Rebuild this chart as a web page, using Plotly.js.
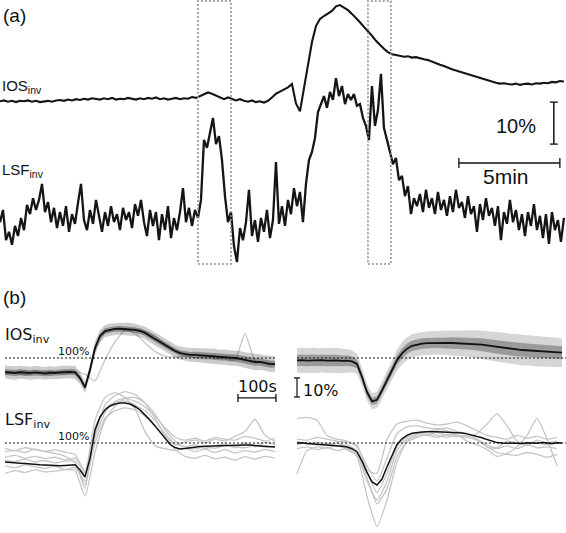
<!DOCTYPE html>
<html>
<head>
<meta charset="utf-8">
<script src="https://cdn.plot.ly/plotly-3.0.1.min.js"></script>
<style>html,body{margin:0;padding:0;background:#fff}</style>
</head>
<body>
<div id="fig" style="width:566px;height:533px"></div>
<script>
// ---- panel (a): whole recording, values in % relative to baseline ----
var dtIosA = 11.88;   // s between samples
var dtLsfA = 8.91;

var iosA = [
  -0.3,-0.1,-0.4,-0.2,-0.5,-0.2,-0.3,-0.1,-0.4,-0.2,-0.5,-0.3,-0.2,-0.4,-0.1,0.0,
  -0.2,0.1,-0.1,0.2,0.0,0.3,0.1,0.4,0.2,0.1,0.4,0.2,0.5,0.1,0.3,0.2,
  0.5,0.3,0.1,0.4,0.2,0.5,0.3,0.6,0.2,0.4,0.1,0.3,0.5,0.2,0.4,0.3,
  0.7,0.5,0.9,1.3,1.8,1.5,1.0,0.6,0.2,0.6,0.3,-0.1,0.2,-0.2,-0.4,-0.1,
  -0.5,-0.3,-0.6,-0.2,0.6,1.5,2.0,2.5,3.0,3.8,-0.8,-2.7,2.8,8.8,13.8,17.6,
  19.3,20.0,20.6,21.2,22.3,22.6,22.0,21.4,20.5,19.6,18.5,17.4,16.4,15.3,14.1,13.1,
  12.2,11.4,10.9,10.7,10.5,10.3,10.4,10.1,10.2,9.9,9.7,9.5,9.1,8.7,8.4,8.1,
  7.6,7.3,7.0,6.7,6.5,6.1,5.8,5.5,5.2,4.9,4.6,4.4,4.1,3.9,4.0,3.8,
  3.7,3.9,3.6,3.8,3.9,3.7,4.0,3.9,4.1,4.0,4.3,4.2,4.5,4.4
];

var lsfA = [
  -1.7,1.2,-6.0,-4.0,-7.1,-2.6,-5.0,-0.7,-3.6,2.4,
  0.2,4.0,1.2,3.6,7.4,0.7,3.1,-1.7,1.7,-3.1,
  0.7,-2.6,2.1,-4.0,0.2,-2.1,2.9,7.4,-1.2,-3.6,
  1.2,-2.1,3.6,-0.7,-4.0,0.7,-2.6,2.1,-1.7,0.2,
  -3.6,1.7,-1.2,0.7,-3.1,2.6,-0.2,3.6,-1.7,-5.0,
  1.2,-2.6,0.7,-6.0,0.2,-3.6,2.1,-5.5,-0.7,-3.6,
  0.7,6.4,-1.7,1.7,-2.6,1.2,-0.7,3.6,17.9,16.0,
  19.8,23.1,16.9,18.8,13.1,4.5,-1.7,0.7,-7.4,-11.2,
  -3.1,-6.0,-1.7,6.0,-5.0,-1.2,-6.4,-0.7,-4.0,1.2,
  -5.5,-1.2,12.6,-2.1,2.1,-2.6,3.6,0.2,6.4,2.1,
  5.5,-1.7,7.4,13.1,15.0,18.3,24.5,26.4,28.3,25.5,
  29.3,27.4,32.6,28.3,30.7,26.4,28.8,27.4,28.8,26.0,
  26.4,23.1,21.2,17.9,30.7,21.2,25.0,33.6,20.7,17.9,
  15.0,12.1,13.6,8.3,9.3,4.5,6.9,0.2,4.0,2.1,
  5.0,0.7,6.0,1.7,4.0,0.2,5.5,1.2,3.6,-0.2,
  4.5,0.7,6.0,1.7,3.1,-0.7,4.5,0.2,2.1,-4.0,
  2.6,-1.2,4.0,-0.2,1.7,-2.6,2.1,-6.0,0.7,-2.1,
  3.6,-1.7,1.2,-3.6,0.2,-5.0,0.7,-2.6,2.6,-3.6,
  -0.2,-5.5,0.2,-6.9,0.7,-3.6,-1.2,-6.4,-0.7
];

// time windows (s) that are averaged in panel (b)
var windowsA = [[588, 686], [1093, 1161]];

// ---- panel (b): event-triggered averages, % of baseline ----
var dtMean = 13.16;   // s, mean traces
var dtTrial = 26.32;  // s, single trials

var iosLeftMean = [
  92.6,92.4,92.1,92.5,92.3,92.0,92.4,92.2,91.9,92.3,92.1,92.4,92.6,92.7,92.5,
  89.5,84.5,93.7,105.3,111.6,114.2,114.9,115.3,115.4,115.3,
  115.2,114.8,114.2,113.2,111.6,110.0,108.4,106.8,105.3,103.7,
  102.6,102.1,101.6,101.6,101.4,101.1,101.1,100.9,100.5,100.5,
  100.0,100.0,99.5,98.9,98.4,97.9,97.9,97.4,96.8,96.8
];
var iosLeftSd = [
  3.4,3.3,3.5,3.4,3.3,3.4,3.5,3.3,3.4,3.4,3.3,3.5,3.4,3.3,3.4,
  3.2,3.0,3.2,3.5,3.3,
  3.2,3.3,3.2,3.1,3.2,3.3,3.2,3.1,3.2,3.4,3.5,3.6,3.5,3.4,3.3,3.4,
  3.5,3.6,3.7,3.8,3.8,3.9,4.0,3.9,4.0,4.1,4.0,4.2,4.1,4.2,4.3,4.2,4.1,4.2,4.0
];
var iosLeftTrials = [
  [93.0,92.5,93.2,92.4,93.0,92.6,93.1,92.8,91.5,88.0,99.0,108.5,114.5,115.0,
   114.0,111.5,107.5,104.0,102.0,101.5,101.0,100.8,100.2,99.8,99.0,98.0,97.5,96.5],
  [91.5,92.0,91.0,92.2,91.4,92.0,91.6,92.3,86.0,104.0,113.5,115.5,115.0,113.0,
   108.0,103.5,101.0,100.5,101.0,100.2,100.8,100.0,99.6,99.0,113.0,98.6,97.8,97.0]
];

var iosRightMean = [
  98.7,98.9,98.6,98.8,98.7,98.9,98.6,98.8,98.7,98.5,
  98.6,98.2,96.9,90.0,82.0,77.2,78.0,83.0,88.5,94.0,
  98.9,102.4,104.9,106.4,107.1,107.6,107.8,107.9,108.0,108.0,
  107.9,107.9,107.8,107.7,107.6,107.5,107.4,107.0,106.6,106.2,
  105.8,105.5,105.2,104.8,104.5,104.2,104.0,103.8,103.6,103.4,
  103.3,103.2,103.0,102.8
];
var iosRightSd = [
  6.4,6.6,6.5,6.7,6.6,6.4,6.6,6.5,6.7,6.4,6.2,5.8,
  5.2,4.8,4.4,4.2,4.3,4.6,5.0,5.3,5.6,
  5.9,6.0,6.1,6.2,6.1,6.2,6.3,6.2,6.4,6.5,6.6,6.7,6.8,7.0,7.1,7.2,7.4,
  7.6,7.7,7.8,7.9,7.8,8.0,7.9,8.1,8.0,7.9,8.1,8.0,7.8,7.9,7.7,7.6
];

var lsfLeftMean = [
  90.0,89.7,89.5,89.4,89.2,88.9,88.7,88.5,88.4,88.2,87.9,88.0,88.2,88.4,88.6,
  85.8,82.1,92.0,106.8,113.7,117.4,119.5,120.5,121.0,121.1,
  120.5,119.2,117.4,115.0,112.1,109.0,105.8,102.4,99.2,97.6,
  96.9,97.1,97.6,98.0,98.2,98.3,98.4,98.6,98.7,98.8,
  98.9,98.9,99.0,98.9,98.9,98.7,98.5,98.3,98.1,97.9
];
var lsfLeftTrials = [
  [95.5,96.0,95.0,96.8,95.6,96.5,95.2,94.0,85.0,112.0,124.0,126.5,124.0,118.0,
   106.0,98.5,97.0,96.0,97.5,96.8,98.0,97.2,99.0,98.0,97.5,98.6,97.8,98.2],
  [84.0,85.5,84.5,86.0,84.8,85.2,86.0,85.5,72.0,95.0,112.0,119.5,123.5,124.0,
   121.0,115.0,107.0,101.0,97.5,95.5,96.8,95.0,96.5,94.8,96.0,95.2,96.5,95.5],
  [91.0,90.2,91.5,90.0,90.8,89.5,90.5,90.0,78.0,104.0,120.0,125.0,127.0,125.5,
   121.0,113.0,104.0,99.0,100.5,101.5,100.0,102.0,101.0,103.5,106.0,112.5,104.0,101.0],
  [88.0,87.0,88.5,87.5,86.5,87.8,86.0,87.0,80.0,100.0,113.0,117.0,118.5,117.5,
   114.0,109.0,103.5,96.5,93.0,92.0,93.5,91.8,92.5,91.0,92.8,91.5,93.0,92.0],
  [92.5,93.5,92.0,93.0,91.8,92.5,91.0,92.0,84.0,103.0,116.0,122.0,123.5,122.0,
   119.0,114.0,108.0,103.0,101.5,102.5,101.0,103.0,102.0,101.5,103.5,102.5,101.0,102.5],
  [97.0,96.0,97.5,96.5,95.5,94.5,93.0,90.0,76.0,108.0,118.0,121.5,122.0,120.0,
   117.0,112.0,105.0,99.5,98.0,99.0,97.0,98.5,99.5,97.5,100.0,98.0,100.5,99.0]
];

var lsfRightMean = [
  100.0,100.1,99.7,99.5,99.6,99.2,99.0,98.8,98.6,98.3,
  97.9,97.0,95.3,90.5,84.5,79.5,77.9,81.0,87.5,93.7,
  99.2,102.2,104.0,105.1,105.5,105.8,105.9,106.0,105.9,105.8,
  105.7,105.5,105.4,105.2,104.8,104.2,103.6,102.8,101.8,100.8,
  100.2,100.0,99.9,100.1,100.0,99.8,100.1,100.0,99.9,100.2,
  100.0,99.8,100.1,100.0
];
var lsfRightTrials = [
  [113.0,113.5,112.0,104.0,102.0,101.0,98.0,88.0,80.0,92.0,105.0,108.5,109.0,108.0,
   107.5,108.0,106.0,105.0,102.0,98.0,97.0,98.5,97.0,99.0,97.5,98.0,97.0],
  [84.0,96.0,98.0,97.5,98.5,96.5,93.0,72.0,56.0,70.0,90.0,101.0,104.5,106.0,
   107.0,106.5,104.0,103.0,101.5,98.0,95.0,94.0,93.5,95.0,94.0,92.5,94.0],
  [102.0,101.5,103.0,102.0,101.0,100.5,99.0,86.0,84.0,102.0,110.0,111.5,112.0,110.5,
   109.5,110.0,111.0,109.0,106.5,104.0,103.0,102.0,104.0,102.5,103.5,102.0,103.0],
  [97.0,98.0,96.5,97.5,96.0,97.0,94.0,80.0,70.0,80.0,96.0,102.0,103.5,104.0,
   103.0,104.5,104.0,103.0,105.0,110.0,115.5,109.0,101.0,99.0,100.5,99.0,100.0],
  [99.0,100.5,99.0,100.0,98.5,99.0,96.0,82.0,68.0,76.0,93.0,100.5,103.0,104.5,
   104.0,103.0,104.0,101.0,99.0,96.5,93.0,94.5,98.0,104.0,113.0,102.0,88.0],
  [101.0,99.5,100.5,99.0,100.0,98.0,95.5,85.0,74.0,84.0,98.0,103.0,105.0,104.5,
   105.5,104.0,103.5,104.0,102.0,99.0,97.5,101.0,100.0,99.0,101.5,100.0,101.0]
];

// ---- layout geometry (pixels of the 566x533 figure) ----
var W = 566, H = 533;
var secPerPxA = 300 / 101, pxPerPctA = 4.2;   // 5 min bar, 10 % bar
var secPerPxB = 100 / 38,  pxPerPctB = 1.9;   // 100 s bar, 10 % bar

function px(x) { return x / W; }
function py(y) { return 1 - y / H; }
function yDomain(top, bot) { return [py(bot), py(top)]; }
function yRange(top, bot, refPx, refVal, k) {
  return [refVal - (bot - refPx) / k, refVal + (refPx - top) / k];
}
function times(n, dt) {
  var t = [];
  for (var i = 0; i < n; i++) t.push(i * dt);
  return t;
}

var traces = [];

// panel (a)
traces.push({x: times(iosA.length, dtIosA), y: iosA, xaxis: 'x', yaxis: 'y',
  mode: 'lines', line: {color: '#151515', width: 2.1}, hoverinfo: 'skip'});
traces.push({x: times(lsfA.length, dtLsfA), y: lsfA, xaxis: 'x', yaxis: 'y2',
  mode: 'lines', line: {color: '#151515', width: 2.3}, hoverinfo: 'skip'});

// panel (b)
function band(t, mean, sd, k, color, xa, ya) {
  var up = mean.map(function (m, i) { return m + k * sd[i]; });
  var lo = mean.map(function (m, i) { return m - k * sd[i]; });
  return {x: t.concat(t.slice().reverse()), y: up.concat(lo.reverse()),
    xaxis: xa, yaxis: ya, mode: 'lines', line: {width: 0},
    fill: 'toself', fillcolor: color, hoverinfo: 'skip'};
}
function trial(y, xa, ya) {
  return {x: times(y.length, dtTrial), y: y, xaxis: xa, yaxis: ya, mode: 'lines',
    line: {color: '#c6c6c6', width: 1.3, shape: 'spline', smoothing: 0.5}, hoverinfo: 'skip'};
}
function meanLine(y, xa, ya, w) {
  return {x: times(y.length, dtMean), y: y, xaxis: xa, yaxis: ya, mode: 'lines',
    line: {color: '#111', width: w}, hoverinfo: 'skip'};
}

var tL = times(iosLeftMean.length, dtMean);
var tR = times(iosRightMean.length, dtMean);

iosLeftTrials.forEach(function (y) { traces.push(trial(y, 'x2', 'y3')); });
traces.push(band(tL, iosLeftMean, iosLeftSd, 1, 'rgba(0,0,0,0.2)', 'x2', 'y3'));
traces.push(band(tL, iosLeftMean, iosLeftSd, 0.45, 'rgba(0,0,0,0.3)', 'x2', 'y3'));
traces.push(meanLine(iosLeftMean, 'x2', 'y3', 1.8));

traces.push(band(tR, iosRightMean, iosRightSd, 1, 'rgba(0,0,0,0.16)', 'x3', 'y3'));
traces.push(band(tR, iosRightMean, iosRightSd, 0.45, 'rgba(0,0,0,0.28)', 'x3', 'y3'));
traces.push(meanLine(iosRightMean, 'x3', 'y3', 1.8));

lsfLeftTrials.forEach(function (y) { traces.push(trial(y, 'x2', 'y4')); });
traces.push(meanLine(lsfLeftMean, 'x2', 'y4', 1.5));
lsfRightTrials.forEach(function (y) { traces.push(trial(y, 'x3', 'y4')); });
traces.push(meanLine(lsfRightMean, 'x3', 'y4', 1.5));

// ---- shapes: windows, scale bars, 100 % lines ----
var shapes = [];
windowsA.forEach(function (w) {
  shapes.push({type: 'rect', xref: 'x', yref: 'paper', x0: w[0], x1: w[1],
    y0: py(264), y1: py(1), line: {color: '#8c8c8c', width: 1.5, dash: '2px,2px'}});
});
function hLine(xref, yref, x0, x1, y, w) {
  return {type: 'line', xref: xref, yref: yref, x0: x0, x1: x1, y0: y, y1: y,
    line: {color: '#111', width: w}};
}
function vLine(xref, yref, x, y0, y1, w) {
  return {type: 'line', xref: xref, yref: yref, x0: x, x1: x, y0: y0, y1: y1,
    line: {color: '#111', width: w}};
}
function hCap(xref, yref, x, y, half) {
  return {type: 'line', xref: xref, yref: yref, xsizemode: 'pixel', xanchor: x,
    x0: -half, x1: half, y0: y, y1: y, line: {color: '#111', width: 1.3}};
}
function vCap(xref, yref, x, y, half) {
  return {type: 'line', xref: xref, yref: yref, ysizemode: 'pixel', yanchor: y,
    y0: -half, y1: half, x0: x, x1: x, line: {color: '#111', width: 1.3}};
}

// (a) 10 % bar and 5 min bar
var barPctA = {t: 1645, top: -0.5, len: 10};
var barMinA = {t0: 1363, len: 300, y: -15.0};
shapes.push(vLine('x', 'y', barPctA.t, barPctA.top, barPctA.top - barPctA.len, 1.5));
shapes.push(hCap('x', 'y', barPctA.t, barPctA.top, 4));
shapes.push(hCap('x', 'y', barPctA.t, barPctA.top - barPctA.len, 4));
shapes.push(hLine('x', 'y', barMinA.t0, barMinA.t0 + barMinA.len, barMinA.y, 1.5));
shapes.push(vCap('x', 'y', barMinA.t0, barMinA.y, 5));
shapes.push(vCap('x', 'y', barMinA.t0 + barMinA.len, barMinA.y, 5));

// (b) 100 s bar and 10 % bar
var barSecB = {t0: 613, len: 100, y: 79.0};
var barPctB = {t: 0, top: 89.5, len: 10};
shapes.push(hLine('x2', 'y3', barSecB.t0, barSecB.t0 + barSecB.len, barSecB.y, 1.2));
shapes.push(vCap('x2', 'y3', barSecB.t0, barSecB.y, 4));
shapes.push(vCap('x2', 'y3', barSecB.t0 + barSecB.len, barSecB.y, 4));
shapes.push(vLine('x3', 'y3', barPctB.t, barPctB.top, barPctB.top - barPctB.len, 1.2));
shapes.push(hCap('x3', 'y3', barPctB.t, barPctB.top, 3));
shapes.push(hCap('x3', 'y3', barPctB.t, barPctB.top - barPctB.len, 3));

// 100 % reference lines
var dotted = {color: '#111', width: 1, dash: '2px,2px'};
[['x2', 'y3', 710], ['x3', 'y3', 708], ['x2', 'y4', 710], ['x3', 'y4', 708]].forEach(function (d) {
  shapes.push({type: 'line', xref: d[0], yref: d[1], x0: 0, x1: d[2], y0: 100, y1: 100, line: dotted});
});

// ---- texts ----
var fA = 'Liberation Sans, Arial, sans-serif';
var fB = 'DejaVu Sans, sans-serif';
function label(text, x, y, size, family, anchor) {
  return {text: text, xref: 'paper', yref: 'paper', x: px(x), y: py(y),
    xanchor: anchor || 'left', yanchor: 'middle', showarrow: false,
    font: {size: size, family: family, color: '#111'}};
}
var annotations = [
  label('(a)', 1, 16, 19, fA),
  label('IOS<sub>inv</sub>', 0, 87, 15, fA),
  label('LSF<sub>inv</sub>', 0, 171, 15, fA),
  label('10%', 516, 126, 20, fA, 'center'),
  label('5min', 506, 176, 21, fA, 'center'),
  label('(b)', 1, 297, 19, fA),
  label('IOS<sub>inv</sub>', 3, 335, 16, fB),
  label('100%', 56, 351, 11, fB),
  label('LSF<sub>inv</sub>', 3, 420, 16, fB),
  label('100%', 56, 436, 11, fB),
  label('100s', 257, 386, 16, fB, 'center'),
  label('10%', 301, 390, 16, fB)
];

var hidden = {visible: false, fixedrange: true};
var layout = {
  width: W, height: H,
  margin: {l: 0, r: 0, t: 0, b: 0},
  paper_bgcolor: '#fff', plot_bgcolor: 'rgba(0,0,0,0)',
  showlegend: false,
  xaxis: Object.assign({domain: [0, 1], range: [0, W * secPerPxA]}, hidden),
  yaxis: Object.assign({domain: yDomain(0, 270), range: yRange(0, 270, 100, 0, pxPerPctA)}, hidden),
  yaxis2: Object.assign({overlaying: 'y', range: yRange(0, 270, 215, 0, pxPerPctA)}, hidden),
  xaxis2: Object.assign({domain: [0, px(280)], range: [-5 * secPerPxB, 275 * secPerPxB], anchor: 'y3'}, hidden),
  xaxis3: Object.assign({domain: [px(290), 1], range: [-7 * secPerPxB, 269 * secPerPxB], anchor: 'y3'}, hidden),
  yaxis3: Object.assign({domain: yDomain(290, 420), range: yRange(290, 420, 358, 100, pxPerPctB), anchor: 'x2'}, hidden),
  yaxis4: Object.assign({domain: yDomain(385, 533), range: yRange(385, 533, 443, 100, pxPerPctB), anchor: 'x2'}, hidden),
  shapes: shapes,
  annotations: annotations
};

Plotly.newPlot('fig', traces, layout, {staticPlot: true, displayModeBar: false});
</script>
</body>
</html>
